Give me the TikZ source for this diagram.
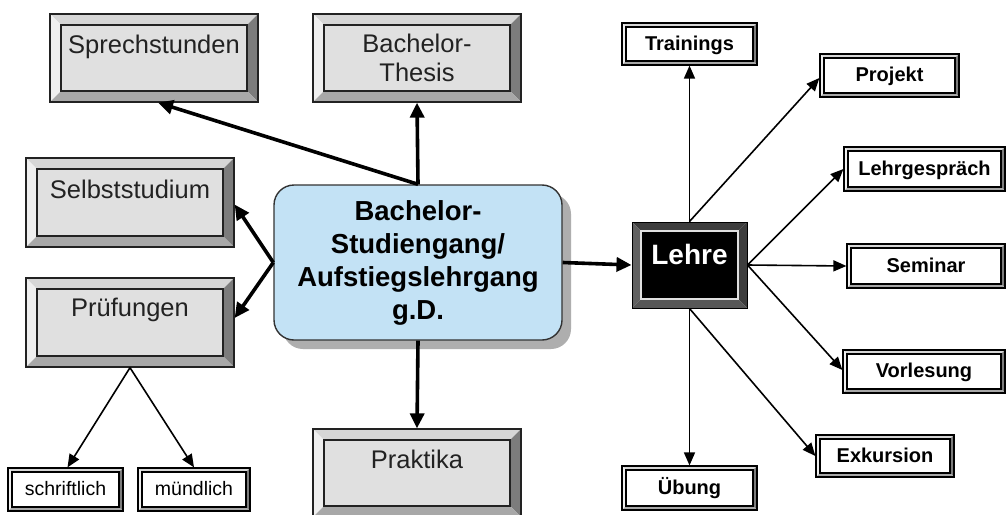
\documentclass[tikz,border=0pt]{standalone}
\usepackage{fontspec}
\setmainfont{Liberation Sans}
\usetikzlibrary{arrows.meta,shadows}

\definecolor{faceG}{HTML}{E0E0E0}
\definecolor{bevT}{HTML}{D6D6D6}
\definecolor{bevL}{HTML}{EFEFEF}
\definecolor{bevR}{HTML}{7C7C7C}
\definecolor{bevB}{HTML}{A8A8A8}
\definecolor{mainblue}{HTML}{C3E2F5}
\definecolor{shadowgray}{HTML}{9A9A9A}
\definecolor{inkG}{HTML}{222222}

% bevel drawing inside a node's path picture
% #1 bevel size, #2 top, #3 left, #4 right, #5 bottom, #6 face, #7 inner border
\newcommand\bevelpic[7]{%
  \path (path picture bounding box.north west) coordinate (bvNW)
        (path picture bounding box.north east) coordinate (bvNE)
        (path picture bounding box.south east) coordinate (bvSE)
        (path picture bounding box.south west) coordinate (bvSW);
  \path ([shift={(#1,-#1)}]bvNW) coordinate (bvnw)
        ([shift={(-#1,-#1)}]bvNE) coordinate (bvne)
        ([shift={(-#1,#1)}]bvSE) coordinate (bvse)
        ([shift={(#1,#1)}]bvSW) coordinate (bvsw);
  \fill[#2] (bvNW) -- (bvNE) -- (bvne) -- (bvnw) -- cycle;
  \fill[#3] (bvNW) -- (bvnw) -- (bvsw) -- (bvSW) -- cycle;
  \fill[#4] (bvNE) -- (bvSE) -- (bvse) -- (bvne) -- cycle;
  \fill[#5] (bvSW) -- (bvsw) -- (bvse) -- (bvSE) -- cycle;
  \filldraw[fill=#6, draw=#7, line width=1.2pt] (bvnw) rectangle (bvse);
}

\tikzset{
  graybox/.style={rectangle, inner sep=0pt, draw=inkG, line width=1.3pt,
    text=inkG, font=\fontsize{25.5}{29}\selectfont,
    minimum width=208pt, minimum height=88pt,
    text height=39pt, text depth=49pt,
    path picture={\bevelpic{11pt}{bevT}{bevL}{bevR}{bevB}{faceG}{inkG}}},
  whitebox/.style={rectangle, inner sep=0pt, draw=black, line width=1.2pt,
    font=\fontsize{20}{24}\selectfont\bfseries,
    text height=15pt, text depth=3pt,
    path picture={\bevelpic{4pt}{bevT}{bevL}{bevR}{bevB}{white}{black}}},
  whiteboxreg/.style={whitebox, font=\fontsize{19.5}{24}\selectfont},
  blackbox/.style={rectangle, inner sep=0pt, draw=black, line width=1pt,
    text=white, font=\fontsize{28}{32}\selectfont\bfseries,
    minimum width=115pt, minimum height=86pt,
    text height=42pt, text depth=44pt,
    path picture={\bevelpic{9pt}{black!76}{black!62}{black!76}{black!66}{black}{black!12}}},
  mainbox/.style={rectangle, rounded corners=20pt, draw=black!80, line width=1.4pt,
    fill=mainblue, align=center, inner sep=0pt,
    font=\fontsize{27.5}{33}\selectfont\bfseries,
    minimum width=288pt, minimum height=155pt,
    drop shadow={shadow xshift=9pt, shadow yshift=-9pt, fill=shadowgray, opacity=0.8}},
  thick arrow/.style={draw=black, line width=3.6pt, -{Triangle[length=15pt,width=14pt]}},
  thin arrow/.style={draw=black, line width=1.6pt, -{Triangle[length=13pt,width=11pt]}},
}

\begin{document}
\begin{tikzpicture}[x=1pt, y=-1pt]
\useasboundingbox[fill=white] (0,0) rectangle (1006,514);

% gray boxes
\node[graybox] (sprech) at (154,58) {Sprechstunden};
\node[graybox, text height=38pt, text depth=50pt] (thesis) at (417,58)
  {\parbox[t]{200pt}{\centering Bachelor-\\Thesis}};
\node[graybox, minimum height=89pt, text height=40pt, text depth=49pt] (selbst) at (130,202.5) {Selbststudium};
\node[graybox, minimum height=89pt, text height=38pt, text depth=51pt] (pruef) at (130,322.5) {Prüfungen};
\node[graybox, text height=39pt, text depth=49pt] (prakt) at (417,473) {Praktika};

% main box
\node[mainbox] (main) at (418,262.5) {Bachelor-\\Studiengang/\\Aufstiegslehrgang\\g.D.};

% Lehre
\node[blackbox] (lehre) at (689.5,265) {Lehre};

% small boxes
\node[whitebox, minimum width=135pt, minimum height=42pt] (train) at (689.5,44) {Trainings};
\node[whitebox, minimum width=139pt, minimum height=43pt] (proj) at (889.5,75.5) {Projekt};
\node[whitebox, minimum width=161pt, minimum height=44pt] (lgespr) at (924.5,169) {Lehrgespräch};
\node[whitebox, minimum width=158pt, minimum height=44pt] (semi) at (926,266) {Seminar};
\node[whitebox, minimum width=162pt, minimum height=43pt] (vorl) at (924,371.5) {Vorlesung};
\node[whitebox, minimum width=138pt, minimum height=42pt] (exk) at (885,456) {Exkursion};
\node[whitebox, minimum width=135pt, minimum height=44pt] (ueb) at (689.5,488) {Übung};
\node[whiteboxreg, minimum width=115pt, minimum height=43pt] (schr) at (65.5,489.5) {schriftlich};
\node[whiteboxreg, minimum width=112pt, minimum height=43pt] (muend) at (194,489.5) {mündlich};

% thick arrows from main
\draw[thick arrow] (main.north) -- (thesis.south);
\draw[thick arrow] (main.north) -- ([xshift=4pt]sprech.south);
\draw[thick arrow] (main.west) -- ([yshift=-2pt]selbst.east);
\draw[thick arrow] (main.west) -- ([yshift=4.5pt]pruef.east);
\draw[thick arrow] (main.east) -- (lehre.west);
\draw[thick arrow] (main.south) -- (prakt.north);

% thin arrows from Lehre
\draw[thin arrow] (lehre.north) -- (train.south);
\draw[thin arrow] (lehre.north) -- ([yshift=-2.5pt]proj.west);
\draw[thin arrow] (lehre.east) -- (lgespr.west);
\draw[thin arrow] (lehre.east) -- (semi.west);
\draw[thin arrow] (lehre.east) -- ([yshift=1.5pt]vorl.west);
\draw[thin arrow] (lehre.south) -- (ueb.north);
\draw[thin arrow] (lehre.south) -- (exk.west);

% Prüfungen split
\draw[thin arrow] (pruef.south) -- ([xshift=2pt]schr.north);
\draw[thin arrow] (pruef.south) -- (muend.north);
\end{tikzpicture}
\end{document}
